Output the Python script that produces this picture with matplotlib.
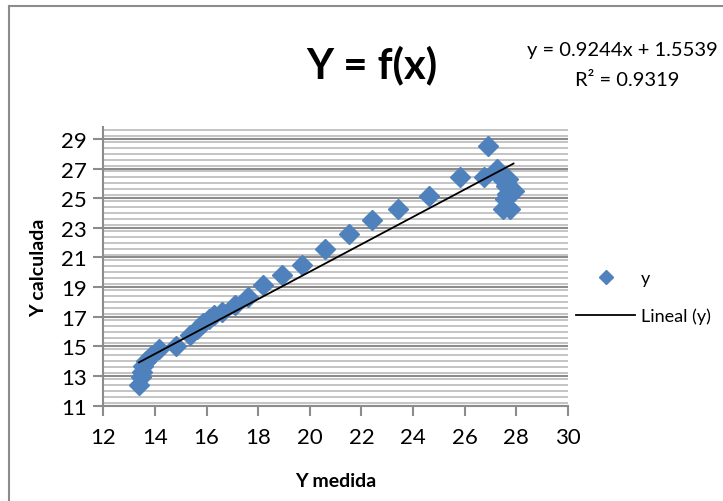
import matplotlib.pyplot as plt
from matplotlib.lines import Line2D
from matplotlib.ticker import MultipleLocator

plt.rcParams['font.family'] = ['Lato', 'DejaVu Sans']

# Data (Y medida vs Y calculada)
y_medida = [13.38, 13.45, 13.5, 13.55, 13.65, 13.85, 14.17, 14.82, 15.36, 15.62,
            15.85, 16.1, 16.3, 16.6, 17.1, 17.6, 18.2, 18.91, 19.69, 20.59,
            21.5, 22.4, 23.41, 24.6, 25.83, 26.73, 26.92, 27.25, 27.44, 27.6,
            27.68, 27.89, 27.57, 27.5, 27.77, 27.65, 27.6]
y_calculada = [12.4, 12.95, 13.3, 13.7, 14.0, 14.35, 14.85, 15.0, 15.75, 16.2,
               16.55, 16.85, 17.1, 17.35, 17.8, 18.35, 19.15, 19.83, 20.51, 21.58,
               22.55, 23.5, 24.3, 25.16, 26.45, 26.45, 28.55, 26.96, 26.3, 26.1,
               26.3, 25.5, 24.93, 24.25, 24.25, 25.3, 25.8]

# Linear trendline as reported on the chart
slope, intercept = 0.9244, 1.5539
r2 = 0.9319

blue = '#4F81BD'

fig = plt.figure(figsize=(7.23, 5.02), dpi=100)
ax = fig.add_axes([0.1429, 0.1898, 0.6427, 0.5552])

ax.plot(y_medida, y_calculada, linestyle='none', marker='D', markersize=10.5,
        color=blue, label='y', zorder=3)
x0, x1 = min(y_medida), max(y_medida)
ax.plot([x0, x1], [slope * x0 + intercept, slope * x1 + intercept],
        color='black', linewidth=1.3, label='Lineal (y)', zorder=4)

ax.set_xlim(12, 30)
ax.set_ylim(11, 29.8)
ax.xaxis.set_major_locator(MultipleLocator(2))
ax.yaxis.set_minor_locator(MultipleLocator(0.4))
ax.set_yticks(range(11, 30, 2))

ax.grid(axis='y', which='major', color='#8C8C8C', linewidth=1.5, zorder=0)
ax.grid(axis='y', which='minor', color='#BFBFBF', linewidth=1.3, zorder=0)
ax.set_axisbelow(True)

for s in ['top', 'right']:
    ax.spines[s].set_visible(False)
for s in ['left', 'bottom']:
    ax.spines[s].set_color('#8C8C8C')
    ax.spines[s].set_linewidth(1.5)
ax.tick_params(axis='both', which='major', direction='out', length=7,
               width=1.5, color='#8C8C8C', labelsize=16, pad=5)
ax.tick_params(axis='x', which='major', pad=8)
ax.tick_params(axis='y', which='minor', length=0)

ax.set_xlabel('Y medida', fontsize=14, fontweight='bold', labelpad=18)
ax.set_ylabel('Y calculada', fontsize=14, fontweight='bold', labelpad=10)

fig.text(0.514, 0.87, 'Y = f(x)', fontsize=30, fontweight='bold',
         ha='center', va='center')
fig.text(0.729, 0.90, f'y = {slope}x + {intercept}', fontsize=14.5,
         ha='left', va='center')
fig.text(0.867, 0.84, f'R² = {r2}', fontsize=14.5, ha='center', va='center')

handles = [Line2D([], [], linestyle='none', marker='D', markersize=7, color=blue),
           Line2D([], [], color='black', linewidth=1.3)]
fig.legend(handles, ['y', 'Lineal (y)'], loc='center left',
           bbox_to_anchor=(0.774, 0.406), frameon=False, fontsize=13,
           handlelength=3.3, labelspacing=1.2, handletextpad=0.3)

# chart-area border (only top and left edges visible in the crop)
fig.add_artist(Line2D([0.0125, 1], [0.986, 0.986], color='#8C8C8C', linewidth=1.5))
fig.add_artist(Line2D([0.0125, 0.0125], [0, 0.986], color='#8C8C8C', linewidth=1.5))

fig.savefig('out.png', dpi=100)
